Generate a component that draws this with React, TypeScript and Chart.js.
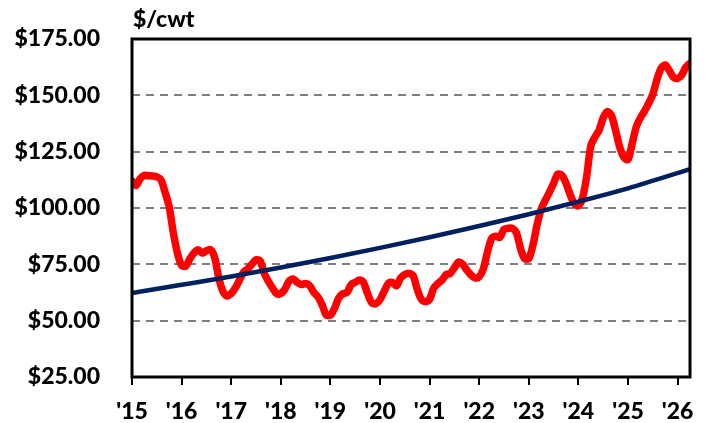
import React, { useEffect, useRef } from "react";
import { Chart, registerables } from "chart.js";

Chart.register(...registerables);

const START_YEAR = 2015;
// Monthly prices, Jan 2015 onward ($/cwt)
const monthlyPrices: number[] = [
  112, 110, 113, 114.5, 114.3, 114.2, 113.8, 112.5, 107, 100.5, 89, 80,
  74.5, 74.2, 77.5, 80, 81.5, 80, 81, 81.5, 78, 69, 63, 61,
  62, 64.5, 68, 71.5, 73, 75, 77, 76.5, 71, 67.5, 64.5, 62,
  62, 64, 67.5, 68.5, 67, 66, 66.5, 65.5, 62.5, 60.5, 57, 52.5,
  52.5, 55.5, 60, 62, 62.5, 66, 67, 68, 67, 62, 58, 57.5,
  59.3, 63, 66.5, 67, 65.5, 69, 70.5, 71, 70, 64, 59.5, 58.5,
  59.5, 64.5, 66.5, 68, 70.4, 71, 73.5, 76, 75, 72.5, 70.3, 69,
  69.5, 73, 80.5, 86.5, 87.5, 87, 90.5, 91, 91, 89, 82, 77.5,
  77.5, 83.5, 92.5, 99.5, 103.5, 107, 111, 115, 114.5, 111, 106, 102,
  101, 104.5, 114, 127.5, 131.5, 134.5, 140, 142.8, 141, 134.5, 127, 122.5,
  121.5, 128.5, 136, 140, 143, 146.5, 150.5, 157, 162, 163.5, 161, 158,
  157.5, 159, 162.5, 164.2,
];

// Trend line read at each year mark
const trendYears: number[] = [2015, 2016, 2017, 2018, 2019, 2020, 2021, 2022, 2023, 2024, 2025, 2026.25];
const trendValues: number[] = [62.3, 65.9, 69.6, 73.6, 77.8, 82.3, 87.0, 92.0, 97.2, 102.8, 108.7, 117.2];

const X_MIN = 2015;
const X_MAX = 2026.25;
const Y_MIN = 25;
const Y_MAX = 175;
const Y_STEP = 25;
const UNIT_LABEL = "$/cwt";

const FONT = "Lato, 'Open Sans', sans-serif";

export default function App() {
  const canvasRef = useRef<HTMLCanvasElement | null>(null);

  useEffect(() => {
    const canvas = canvasRef.current;
    if (!canvas) return;

    const framePlugin = {
      id: "frame",
      afterDatasetsDraw(chart: any) {
        const { ctx, chartArea } = chart;
        ctx.save();
        ctx.strokeStyle = "#000";
        ctx.lineWidth = 3;
        ctx.strokeRect(chartArea.left, chartArea.top, chartArea.right - chartArea.left, chartArea.bottom - chartArea.top);
        ctx.restore();
      },
      afterDraw(chart: any) {
        const { ctx, chartArea } = chart;
        ctx.save();
        ctx.fillStyle = "#000";
        ctx.font = `900 23px ${FONT}`;
        ctx.textAlign = "left";
        ctx.textBaseline = "alphabetic";
        ctx.fillText(UNIT_LABEL, chartArea.left + 1, 27);
        ctx.restore();
      },
    };

    const chart = new Chart(canvas, {
      type: "line",
      data: {
        datasets: [
          {
            label: "Trend",
            data: trendYears.map((x, i) => ({ x, y: trendValues[i] })),
            borderColor: "#002060",
            borderWidth: 4.5,
            pointRadius: 0,
            cubicInterpolationMode: "monotone",
            fill: false,
          },
          {
            label: "Price",
            data: monthlyPrices.map((y, i) => ({ x: START_YEAR + i / 12, y })),
            borderColor: "#FF0000",
            borderWidth: 7.5,
            pointRadius: 0,
            tension: 0.3,
            borderCapStyle: "round",
            borderJoinStyle: "round",
            fill: false,
          },
        ],
      },
      options: {
        animation: false,
        responsive: false,
        maintainAspectRatio: false,
        layout: { padding: { top: 39, right: 26, left: 0, bottom: 0 } },
        plugins: {
          legend: { display: false },
          tooltip: { enabled: false },
          title: { display: false },
        },
        scales: {
          x: {
            type: "linear",
            min: X_MIN,
            max: X_MAX,
            afterFit(scale: any) {
              scale.height = 46;
              scale.paddingLeft = 0;
              scale.paddingRight = 0;
            },
            grid: {
              display: true,
              drawOnChartArea: false,
              drawTicks: true,
              tickLength: 8,
              color: "#000",
              lineWidth: 2,
            },
            border: { display: false },
            ticks: {
              stepSize: 1,
              includeBounds: false,
              autoSkip: false,
              maxRotation: 0,
              padding: 13,
              color: "#000",
              font: { family: FONT, size: 23, weight: "900" },
              callback: (v: any) => "'" + String(Math.round(Number(v))).slice(2),
            },
          },
          y: {
            min: Y_MIN,
            max: Y_MAX,
            afterFit(scale: any) {
              scale.width = 132;
              scale.paddingTop = 0;
              scale.paddingBottom = 0;
            },
            grid: {
              drawTicks: false,
              color: "#7f7f7f",
              lineWidth: 2,
            },
            border: { display: false, dash: [8, 6] },
            ticks: {
              stepSize: Y_STEP,
              padding: 32,
              color: "#000",
              font: { family: FONT, size: 23, weight: "900" },
              callback: (v: any) => "$" + Number(v).toFixed(2),
            },
          },
        },
      },
      plugins: [framePlugin],
    } as any);

    return () => chart.destroy();
  }, []);

  return (
    <div style={{ position: "fixed", left: 0, top: 0, width: 716, height: 423, background: "#fff" }}>
      <canvas ref={canvasRef} width={716} height={423} style={{ width: 716, height: 423, display: "block" }} />
    </div>
  );
}
